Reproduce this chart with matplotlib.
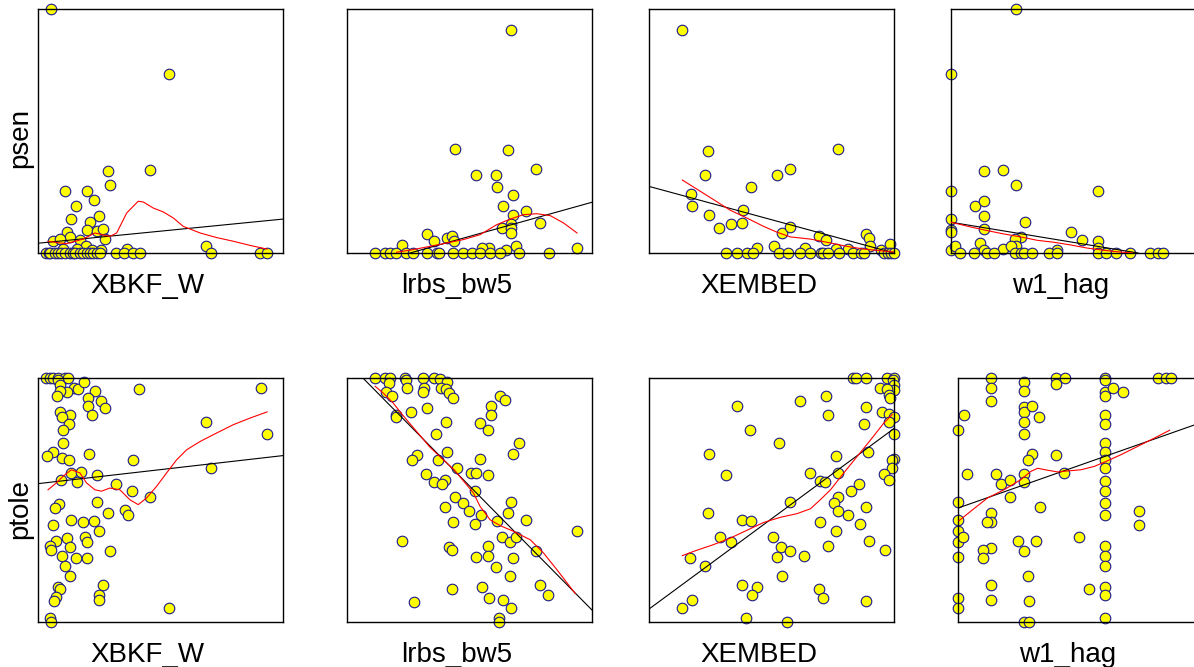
import numpy as np
import matplotlib
matplotlib.use("Agg")
from matplotlib import pyplot as plt

plt.rcParams["font.family"] = ["Liberation Sans", "DejaVu Sans"]

x_names = ["XBKF_W", "lrbs_bw5", "XEMBED", "w1_hag"]
y_names = ["psen", "ptole"]

# ---- psen row (values in % of each axis range) ----
psen_xbkf_x = [5.2, 53.5, 28.4, 45.6, 29.2, 11.1, 19.8, 22.9, 15.7, 25.0, 13.6, 21.4, 11.7, 20.1,
               24.0, 26.6, 13.2, 27.3, 6.3, 8.9, 10.2, 17.3, 19.5, 16.1, 22.2, 25.8, 36.4, 68.5,
               3.4, 4.5, 4.8, 6.8, 8.2, 9.5, 10.9, 13.0, 14.1, 15.0, 17.1, 18.4, 20.1, 21.1,
               22.5, 23.9, 25.2, 31.9, 35.3, 38.6, 41.6, 70.7, 90.6, 93.5]
psen_xbkf_y = [100, 73.2, 33.5, 34.0, 27.7, 25.4, 25.5, 21.6, 19.1, 15.3, 13.9, 12.6, 8.6, 9.6,
               8.9, 9.8, 6.6, 5.9, 5.1, 5.7, 1.6, 5.2, 2.7, 1.6, 1.4, 1.1, 1.6, 3.0,
               0, 0, 0, 0, 0, 0, 0, 0, 0, 0, 0, 0, 0, 0,
               0, 0, 0, 0, 0, 0, 0, 0, 0, 0]

psen_lrbs_x = [67.1, 44.1, 65.9, 77.1, 52.7, 60.8, 61.4, 67.8, 63.7, 73.1, 67.9, 78.6, 66.8, 63.3,
               67.0, 66.8, 32.7, 35.5, 40.9, 42.8, 43.8, 22.6, 68.8, 93.9, 57.8, 55.0, 64.8,
               11.5, 15.4, 17.5, 19.9, 24.0, 27.0, 32.5, 36.6, 37.7, 43.4, 47.5, 50.9, 54.3,
               58.4, 62.5, 70.4, 82.3]
psen_lrbs_y = [91.4, 42.5, 42.1, 34.4, 31.8, 32.0, 27.0, 23.9, 19.1, 17.3, 15.7, 12.4, 12.0, 10.2,
               10.1, 8.2, 7.7, 4.9, 6.1, 6.8, 4.9, 3.1, 3.0, 1.9, 2.0, 2.0, 1.1,
               0, 0, 0, 0, 0, 0, 0, 0, 0, 0, 0, 0, 0,
               0, 0, 0, 0]

psen_xemb_x = [13.5, 24.1, 77.1, 22.9, 52.4, 57.7, 41.5, 17.1, 17.5, 24.6, 38.2, 28.6, 33.6, 37.9,
               54.3, 57.7, 69.4, 72.2, 50.9, 63.7, 44.1, 76.5, 81.2, 88.5, 89.6, 90.2, 98.2, 94.5,
               31.5, 35.9, 40.0, 42.4, 53.1, 56.8, 61.8, 65.9, 70.0, 71.1, 73.0, 77.5, 83.4,
               86.4, 87.7, 95.9, 97.5, 98.6, 100]
psen_xemb_y = [91.4, 41.9, 42.5, 31.8, 31.8, 34.4, 27.0, 24.0, 19.1, 15.6, 17.5, 10.2, 11.9, 12.4,
               8.2, 10.5, 7.1, 5.2, 2.7, 2.0, 2.0, 1.6, 1.6, 7.8, 6.0, 3.0, 3.8, 1.1,
               0, 0, 0, 0, 0, 0, 0, 0, 0, 0, 0, 0, 0,
               0, 0, 0, 0, 0, 0]

psen_hag_x = [26.7, 0, 0, 0, 0, 0, 0, 1.8, 13.4, 21.3, 26.7, 60.0, 9.7, 13.4, 13.4, 13.4, 30.4,
              28.4, 26.3, 26.7, 49.0, 53.5, 60.0, 60.0, 12.0, 13.4, 21.3, 24.4, 43.4,
              3.5, 9.3, 14.7, 17.5, 26.3, 28.4, 29.7, 33.2, 40.0, 43.1, 59.8, 63.2, 67.3,
              73.1, 81.2, 84.3, 86.6]
psen_hag_y = [100, 73.2, 25.4, 13.9, 9.6, 8.6, 1.4, 2.7, 33.6, 33.9, 27.7, 25.5, 19.1, 21.4, 15.3,
              9.8, 12.6, 6.6, 5.7, 3.0, 8.5, 5.5, 4.9, 2.0, 4.1, 1.1, 1.6, 2.7, 1.1,
              0, 0, 0, 0, 0, 0, 0, 0, 0, 0, 0, 0, 0,
              0, 0, 0, 0]

# ---- ptole row ----
ptole_xbkf_x = [3.4, 4.8, 6.1, 8.2, 10.9, 12.3, 8.2, 8.9, 14.6, 16.4, 18.8, 12.0, 8.9, 7.8, 23.2,
                41.3, 91.0, 20.6, 25.9, 27.3, 20.3, 22.1, 9.1, 13.2, 9.9, 12.7, 10.2, 68.5, 93.5,
                10.2, 6.1, 3.8, 9.7, 12.8, 21.0, 38.6, 70.7, 13.6, 17.5, 24.0, 9.5, 16.1, 31.9,
                38.5, 45.6, 23.9, 8.6, 6.8, 28.6, 35.6, 36.6, 13.5, 18.4, 22.8, 24.7, 6.3, 7.5,
                11.9, 19.2, 20.0, 4.8, 5.5, 13.2, 29.2, 9.9, 15.6, 19.8, 11.1, 12.9, 26.4, 8.2,
                8.9, 25.0, 24.8, 7.5, 6.4, 53.3, 4.8, 5.2]
ptole_xbkf_y = [100, 100, 100, 100, 100, 100, 99.0, 97.3, 95.9, 95.5, 98.2, 94.4, 94.5, 92.5, 94.5,
                95.6, 95.8, 91.8, 90.7, 87.7, 88.4, 85.0, 86.2, 85.0, 84.0, 81.3, 78.6, 82.0, 77.2,
                73.4, 69.8, 68.2, 67.1, 66.5, 68.9, 66.4, 63.1, 61.1, 61.3, 60.2, 58.1, 57.2, 56.6,
                53.6, 51.4, 49.0, 48.5, 46.9, 44.7, 45.8, 43.9, 41.9, 40.8, 41.3, 37.2, 39.9, 33.2,
                34.6, 34.7, 32.7, 31.3, 29.4, 30.7, 29.1, 26.9, 26.1, 26.4, 22.8, 18.7, 15.2, 14.3,
                13.5, 11.2, 9.2, 10.2, 8.7, 5.7, 1.6, 0]

ptole_lrbs_x = [11.5, 15.4, 17.5, 23.6, 31.1, 35.5, 37.9, 17.1, 24.0, 24.3, 31.4, 31.1, 41.0, 38.3,
                40.5, 41.8, 43.4, 15.8, 18.3, 62.5, 64.5, 58.8, 58.9, 32.7, 26.3, 19.8, 20.2, 40.4,
                54.3, 57.6, 36.2, 70.3, 67.7, 40.7, 28.6, 26.7, 37.2, 54.3, 45.0, 32.2, 50.8, 52.5,
                57.7, 35.5, 40.0, 38.6, 52.1, 44.1, 47.5, 39.8, 49.9, 66.8, 65.9, 54.6, 43.2, 52.1,
                61.4, 73.0, 93.9, 63.2, 66.6, 68.8, 22.6, 41.6, 43.0, 57.7, 57.7, 52.7, 67.8, 77.2,
                60.7, 66.7, 78.6, 82.0, 55.3, 42.7, 58.0, 63.6, 67.1, 27.3, 62.2, 62.1]
ptole_lrbs_y = [100, 100, 100, 100, 100, 100, 99.7, 97.9, 99.0, 95.8, 95.9, 94.3, 98.2, 95.8,
                95.6, 93.9, 91.7, 94.4, 92.5, 92.5, 90.8, 88.4, 85.0, 87.8, 86.1, 85.0, 84.0, 82.1,
                81.4, 78.7, 77.2, 73.2, 68.7, 69.8, 68.3, 66.5, 66.5, 66.9, 63.1, 60.5, 60.9, 60.9,
                60.1, 57.5, 58.3, 56.6, 53.6, 51.2, 48.8, 47.1, 45.5, 49.0, 44.7, 43.9, 40.8, 40.0,
                41.4, 41.8, 37.2, 34.7, 32.8, 34.7, 33.2, 30.7, 29.5, 31.3, 26.9, 26.5, 26.1, 29.2,
                22.7, 19.0, 15.2, 11.2, 14.2, 13.5, 10.0, 9.2, 5.7, 8.3, 1.8, 0]

ptole_xemb_x = [83.4, 84.3, 88.4, 97.3, 100, 99.7, 100, 100, 94.3, 97.3, 98.0, 98.4, 61.8, 72.3,
                35.9, 88.4, 95.2, 97.8, 100, 72.9, 87.6, 98.0, 100, 41.1, 53.1, 24.3, 89.5, 76.3,
                100, 99.2, 99.0, 95.9, 97.8, 31.5, 65.6, 77.2, 69.6, 72.0, 85.7, 82.4, 77.1, 75.7,
                57.7, 88.7, 77.1, 24.1, 81.4, 38.1, 41.5, 69.6, 86.1, 76.5, 28.8, 33.6, 50.6, 89.9,
                73.0, 53.8, 57.7, 52.4, 63.4, 96.2, 16.9, 22.9, 54.2, 37.8, 43.9, 42.2, 69.4, 71.2,
                88.4, 17.5, 13.5, 39.7, 56.3]
ptole_xemb_y = [100, 100, 100, 100, 100, 99.0, 97.3, 95.2, 95.8, 95.5, 93.2, 91.8, 90.7, 92.5,
                88.4, 88.0, 86.1, 85.2, 84.0, 85.0, 81.3, 81.8, 77.2, 78.7, 73.2, 68.9, 69.8, 68.2,
                66.8, 66.3, 63.1, 60.7, 58.3, 60.2, 60.9, 60.9, 57.8, 57.4, 56.6, 53.6, 51.4, 48.6,
                49.2, 47.0, 45.6, 44.8, 43.9, 41.9, 41.3, 40.8, 40.0, 37.2, 34.8, 32.8, 34.8, 33.3,
                31.3, 30.7, 29.2, 26.5, 27.0, 29.6, 26.1, 22.8, 19.0, 15.2, 14.3, 11.2, 13.5, 10.0,
                8.5, 9.2, 5.7, 1.6, 0]

ptole_hag_x = [0, 0, 0, 0, 0, 0, 0, 0, 2.5, 3.8, 2.2,
               13.4, 13.4, 13.4, 13.4, 13.4, 13.4, 13.4, 13.4, 12.0, 10.0, 10.0,
               15.4, 17.7, 21.3, 21.3,
               27.0, 27.0, 27.0, 27.0, 27.0, 27.0, 27.0, 27.0, 27.0, 30.0, 32.9, 30.4, 28.6,
               24.3, 27.0, 31.8, 28.4, 29.1, 29.1, 33.6,
               40.1, 43.7, 40.1, 40.1, 43.4, 49.2, 53.6,
               60.2, 60.2, 60.2, 60.2, 60.2, 60.2, 60.2, 60.2, 60.2, 60.2, 60.2, 60.2, 60.2,
               60.2, 60.2, 60.2, 60.2, 60.2, 60.2, 60.2, 63.2, 67.3,
               73.7, 73.7, 81.6, 85.0, 86.8]
ptole_hag_y = [78.8, 49.2, 41.9, 37.2, 32.7, 26.5, 10.0, 5.7, 85.0, 60.8, 34.7,
               100, 95.8, 90.7, 44.7, 41.0, 30.3, 15.2, 9.2, 40.8, 29.4, 26.1,
               60.7, 56.6, 58.3, 51.4,
               98.2, 94.5, 88.0, 85.9, 82.1, 77.2, 60.7, 57.4, 0, 88.4, 84.0, 69.0, 66.5,
               33.2, 29.2, 33.2, 18.7, 8.5, 0, 47.0,
               100, 100, 97.7, 68.3, 61.1, 34.7, 13.5,
               100, 99.0, 94.4, 92.5, 85.0, 81.3, 73.4, 69.8, 66.5, 63.1, 57.7, 53.6, 48.8,
               43.9, 31.3, 26.9, 22.8, 14.3, 11.2, 1.6, 95.8, 94.4,
               45.6, 39.9, 100, 100, 100]

# linear fit: intercept, slope (per panel, row by row)
fit_intercept = [4.0, -7.2, 27.3, 12.6, 56.7, 106.6, 5.3, 46.7]
fit_slope = [0.099, 0.28, -0.273, -0.165, 0.115, -1.017, 0.74, 0.353]

# smoother curves (red)
smooth_x = [
    [4.1, 11.6, 18.4, 23.2, 29.3, 32.1, 36.2, 40.9, 43.0, 47.1, 51.2, 55.3, 59.3, 66.2, 73.0, 79.8, 86.6, 93.5],
    [20.2, 27.0, 33.8, 40.7, 47.5, 54.3, 61.1, 66.6, 72.0, 77.5, 83.0, 88.4, 93.9],
    [13.6, 19.5, 26.3, 33.2, 40.0, 46.8, 52.3, 57.7, 65.9, 74.1, 80.9, 87.7, 100],
    [0, 7.9, 14.7, 21.6, 28.4, 35.2, 42.0, 48.8, 55.7, 62.5, 67.9, 74.1],
    [4.1, 7.5, 10.2, 13.6, 17.1, 19.8, 23.2, 25.9, 29.3, 33.4, 37.5, 40.9, 44.3, 48.4, 52.5, 56.6, 60.7, 66.2, 73.0, 79.8, 86.6, 93.5],
    [11.5, 14.7, 18.8, 22.9, 28.4, 33.8, 39.3, 43.7, 48.8, 51.6, 54.3, 58.4, 62.5, 67.9, 74.8, 80.2, 85.7, 93.2],
    [13.6, 19.5, 26.3, 33.2, 40.0, 46.8, 53.6, 60.4, 65.9, 69.9, 74.1, 79.5, 85.0, 90.5, 95.9, 99.3],
    [0.4, 5.2, 12.0, 18.8, 25.6, 29.7, 32.5, 36.6, 40.7, 44.7, 50.2, 55.7, 61.1, 66.6, 73.4, 80.2, 86.4],
]
smooth_y = [
    [4.8, 3.8, 5.7, 8.2, 6.8, 8.2, 16.4, 21.2, 20.9, 18.4, 16.8, 14.3, 10.9, 8.2, 6.3, 4.8, 3.1, 1.6],
    [0.3, 1.4, 2.7, 4.1, 5.5, 7.5, 11.6, 13.9, 15.7, 16.1, 15.3, 12.3, 8.2],
    [29.9, 26.2, 21.9, 17.5, 14.3, 10.9, 8.5, 6.6, 5.7, 4.1, 2.7, 1.6, 0.4],
    [12.6, 10.7, 9.2, 7.8, 6.6, 5.2, 4.4, 3.3, 2.0, 1.1, 0.5, 0],
    [54.2, 57.0, 59.7, 62.4, 61.1, 57.0, 54.2, 53.6, 54.9, 54.2, 50.1, 48.1, 50.8, 55.6, 61.1, 66.5, 70.6, 74.0, 77.5, 80.9, 83.6, 86.1],
    [96.6, 93.9, 89.8, 84.6, 78.1, 71.7, 66.5, 62.4, 56.3, 52.9, 47.4, 41.9, 39.5, 37.2, 33.7, 28.3, 21.4, 11.6],
    [27.2, 29.4, 31.7, 34.4, 37.6, 40.8, 42.9, 44.4, 46.4, 50.1, 54.2, 61.1, 67.9, 74.7, 81.6, 85.0],
    [41.5, 45.4, 50.8, 54.2, 58.3, 61.7, 63.0, 62.2, 61.5, 61.9, 62.4, 63.8, 66.1, 68.6, 72.0, 75.4, 78.6],
]

panels_x = [psen_xbkf_x, psen_lrbs_x, psen_xemb_x, psen_hag_x,
            ptole_xbkf_x, ptole_lrbs_x, ptole_xemb_x, ptole_hag_x]
panels_y = [psen_xbkf_y, psen_lrbs_y, psen_xemb_y, psen_hag_y,
            ptole_xbkf_y, ptole_lrbs_y, ptole_xemb_y, ptole_hag_y]

W, H = 1194, 667
fig = plt.figure(figsize=(W / 100, H / 100), dpi=100)

lefts = [[38, 347, 649, 951], [38, 347, 649, 958]]
tops = [9, 378]
size = 245

for i in range(8):
    r, c = divmod(i, 4)
    ax = fig.add_axes([lefts[r][c] / W, (H - tops[r] - 244) / H, size / W, 244 / H])
    ax.set_xlim(0, 100)
    ax.set_ylim(0, 100)
    ax.set_xticks([])
    ax.set_yticks([])
    for s in ax.spines.values():
        s.set_linewidth(1.0)
        s.set_color("black")

    ax.scatter(panels_x[i], panels_y[i], s=58, facecolor="#FFFF00", edgecolor="#1a1a8c",
               linewidth=0.8, clip_on=False, zorder=2)
    ax.axline((0, fit_intercept[i]), slope=fit_slope[i], color="black", lw=0.8, zorder=3)
    ax.plot(smooth_x[i], smooth_y[i], color="red", lw=0.8, zorder=4)

    ax.set_xlabel(x_names[c], fontsize=20)
    ax.xaxis.set_label_coords(0.447, -0.082)
    if c == 0:
        ax.set_ylabel(y_names[r], fontsize=20)
        ax.yaxis.set_label_coords(-0.02, 0.47 if r == 0 else 0.463)

fig.savefig("out.png", dpi=100)
